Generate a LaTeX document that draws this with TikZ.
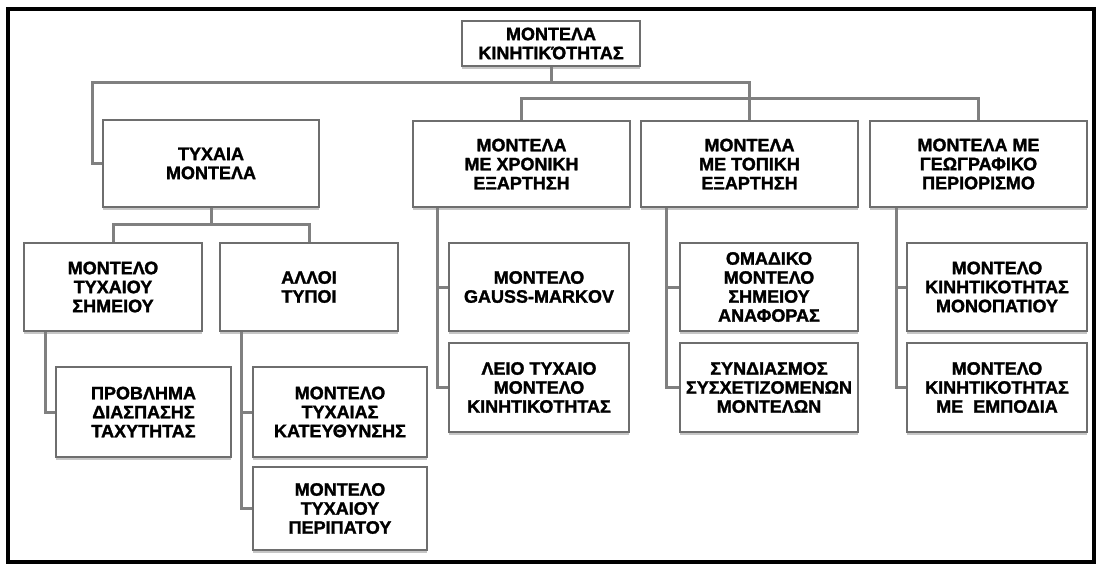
\documentclass[tikz,border=0pt]{standalone}
\usepackage{fontspec}
\setmainfont{Liberation Sans}[BoldFeatures={FakeBold=1.6}]
\usetikzlibrary{shadows}
\definecolor{boxc}{RGB}{110,110,110}
\definecolor{linec}{RGB}{128,128,128}
\tikzset{
  box/.style={draw=boxc, line width=2.5pt, fill=white, align=center,
    font=\bfseries\fontsize{18}{19}\selectfont, inner sep=0pt,
    drop shadow={shadow xshift=0pt, shadow yshift=-2.5pt, opacity=0.45, fill=gray}},
  conn/.style={draw=linec, line width=3pt},
  frame/.style={draw=black, line width=4pt},
}
\newcommand\mybox[6]{\node[box, minimum width={#4-#2}, minimum height={#5-#3}] (#1) at ({(#2+#4)/2},{(#3+#5)/2}) {#6};}
\begin{document}
\begin{tikzpicture}[x=1pt,y=-1pt]
\useasboundingbox (0,0) rectangle (1097,566);
\draw[frame] (8,9) rectangle (1094,562);

\coordinate (j1) at (92,82);

\mybox{top}{462}{21}{640}{66}{ΜΟΝΤΕΛΑ\\ΚΙΝΗΤΙΚΌΤΗΤΑΣ}
\mybox{ty}{103}{120}{319}{207}{ΤΥΧΑΙΑ\\ΜΟΝΤΕΛΑ}
\mybox{xr}{413}{121}{630}{207}{ΜΟΝΤΕΛΑ\\ΜΕ ΧΡΟΝΙΚΗ\\ΕΞΑΡΤΗΣΗ}
\mybox{tp}{641}{121}{858}{207}{ΜΟΝΤΕΛΑ\\ΜΕ ΤΟΠΙΚΗ\\ΕΞΑΡΤΗΣΗ}
\mybox{ge}{870}{121}{1087}{207}{ΜΟΝΤΕΛΑ ΜΕ\\ΓΕΩΓΡΑΦΙΚΟ\\ΠΕΡΙΟΡΙΣΜΟ}
\mybox{sh}{24}{243}{202}{331}{ΜΟΝΤΕΛΟ\\ΤΥΧΑΙΟΥ\\ΣΗΜΕΙΟΥ}
\mybox{al}{220}{243}{398}{331}{ΑΛΛΟΙ\\ΤΥΠΟΙ}
\mybox{pr}{56}{367}{231}{457}{ΠΡΟΒΛΗΜΑ\\ΔΙΑΣΠΑΣΗΣ\\ΤΑΧΥΤΗΤΑΣ}
\mybox{ka}{253}{367}{427}{457}{ΜΟΝΤΕΛΟ\\ΤΥΧΑΙΑΣ\\ΚΑΤΕΥΘΥΝΣΗΣ}
\mybox{pe}{253}{467}{427}{550}{ΜΟΝΤΕΛΟ\\ΤΥΧΑΙΟΥ\\ΠΕΡΙΠΑΤΟΥ}
\mybox{ga}{449}{243}{629}{331}{ΜΟΝΤΕΛΟ\\GAUSS-MARKOV}
\mybox{le}{449}{343}{629}{432}{ΛΕΙΟ ΤΥΧΑΙΟ\\ΜΟΝΤΕΛΟ\\ΚΙΝΗΤΙΚΟΤΗΤΑΣ}
\mybox{om}{680}{243}{858}{331}{ΟΜΑΔΙΚΟ\\ΜΟΝΤΕΛΟ\\ΣΗΜΕΙΟΥ\\ΑΝΑΦΟΡΑΣ}
\mybox{sy}{680}{343}{858}{432}{ΣΥΝΔΙΑΣΜΟΣ\\ΣΥΣΧΕΤΙΖΟΜΕΝΩΝ\\ΜΟΝΤΕΛΩΝ}
\mybox{mo}{907}{243}{1087}{331}{ΜΟΝΤΕΛΟ\\ΚΙΝΗΤΙΚΟΤΗΤΑΣ\\ΜΟΝΟΠΑΤΙΟΥ}
\mybox{em}{907}{343}{1087}{432}{ΜΟΝΤΕΛΟ\\ΚΙΝΗΤΙΚΟΤΗΤΑΣ\\ΜΕ\ \ ΕΜΠΟΔΙΑ}

\draw[conn] (ty.west) -| (j1) -| (tp.north);
\draw[conn] (top.south) -- (top.south |- j1);
\draw[conn] (xr.north) -- ++(0,-21) -| (ge.north);
\coordinate (j3) at (ty.south |- 0,224);
\draw[conn] (ty.south) -- (j3);
\draw[conn] (sh.north) |- (j3) -| (al.north);
\draw[conn] ([xshift=23pt]sh.south west) |- (pr.west);
\draw[conn] ([xshift=23pt]al.south west) |- (ka.west);
\draw[conn] ([xshift=23pt]al.south west) |- (pe.west);
\draw[conn] ([xshift=26pt]xr.south west) |- (ga.west);
\draw[conn] ([xshift=26pt]xr.south west) |- (le.west);
\draw[conn] ([xshift=27pt]tp.south west) |- (om.west);
\draw[conn] ([xshift=27pt]tp.south west) |- (sy.west);
\draw[conn] ([xshift=28pt]ge.south west) |- (mo.west);
\draw[conn] ([xshift=28pt]ge.south west) |- (em.west);
\end{tikzpicture}
\end{document}
